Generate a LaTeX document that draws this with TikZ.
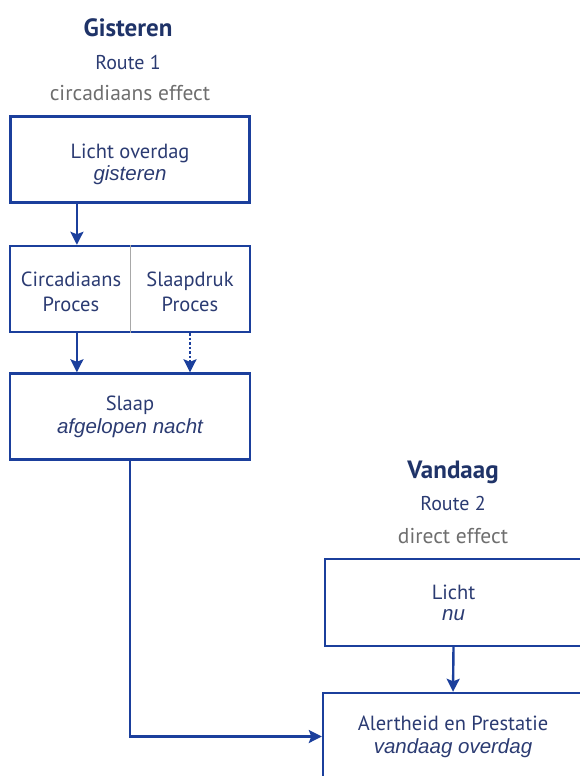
\documentclass[tikz,border=0pt]{standalone}
\usepackage{fontspec}
\setmainfont{PT Sans}
\newfontfamily\arialfont{Liberation Sans}
\usetikzlibrary{calc,arrows.meta}

\definecolor{lijnblauw}{HTML}{1B3F9C}
\definecolor{tekstblauw}{HTML}{2B3B72}
\definecolor{titelblauw}{HTML}{1F3368}
\definecolor{grijs}{HTML}{6E6E6E}

\tikzset{
    blok/.style={draw=lijnblauw, line width=2.4pt, minimum height=86pt, inner sep=0pt,
        text=tekstblauw, font=\fontsize{20.5}{23}\selectfont, align=center},
    tekst/.style={text=tekstblauw, font=\fontsize{20.5}{25}\selectfont, align=center},
    titel/.style={text=titelblauw, font=\fontsize{25}{25}\selectfont\bfseries},
    route/.style={text=tekstblauw, font=\fontsize{20}{20}\selectfont},
    effect/.style={text=grijs, font=\fontsize{21.5}{21.5}\selectfont},
    pijl/.style={draw=lijnblauw, line width=2.4pt, -{Stealth[length=13pt,width=13pt,inset=2.5pt]}},
}
\newcommand{\ital}[1]{{\arialfont\itshape #1}}

\begin{document}
\begin{tikzpicture}[x=1pt,y=-1pt]
    \useasboundingbox (0,0) rectangle (580,776);

    % Route 1 (gisteren)
    \node[titel]  (gisteren) at (128,28) {Gisteren};
    \node[route]  (route1)   at (128,63) {Route 1};
    \node[effect] (circeff)  at (130,93) {circadiaans effect};

    \node[blok, minimum width=239pt] (lichtg) at (130,159.5) {};
    \node[tekst] (lichtgtxt) at (130,164) {Licht overdag\\[-3pt]\ital{gisteren}};
    \node[blok, minimum width=240pt] (proces) at (130,289) {};
    \node[tekst] (circ) at (71,292)  {Circadiaans\\Proces};
    \node[tekst] (druk) at (190,292) {Slaapdruk\\Proces};
    \node[blok, minimum width=240pt] (slaap) at (130,416.5) {Slaap\\\ital{afgelopen nacht}};

    % Route 2 (vandaag)
    \node[titel]  (vandaag) at (453,472) {Vandaag};
    \node[route]  (route2)  at (453,503) {Route 2};
    \node[effect] (direff)  at (453,536) {direct effect};

    \node[blok, minimum width=257pt, minimum height=87pt] (licht) at (453.5,602.5) {Licht\\[-2pt]\ital{nu}};
    \node[blok, minimum width=260pt, minimum height=87pt] (alert) at (453,736.5) {Alertheid en Prestatie\\\ital{vandaag overdag}};

    % scheidingslijn en pijlen
    \draw[grijs!60, line width=0.8pt] (proces.north) -- (proces.south);
    \coordinate (a1) at ($(lichtg.south west)!0.28!(lichtg.south east)$);
    \draw[pijl] (a1) -- (a1 |- proces.north);
    \draw[pijl] (a1 |- proces.south) -- (a1 |- slaap.north);
    \draw[pijl, dash pattern=on 2.5pt off 2pt] (druk |- proces.south) -- (druk |- slaap.north);
    \draw[pijl] (licht.south) -- (alert.north);
    \draw[pijl] (slaap.south) |- (alert.west);

\end{tikzpicture}
\end{document}
